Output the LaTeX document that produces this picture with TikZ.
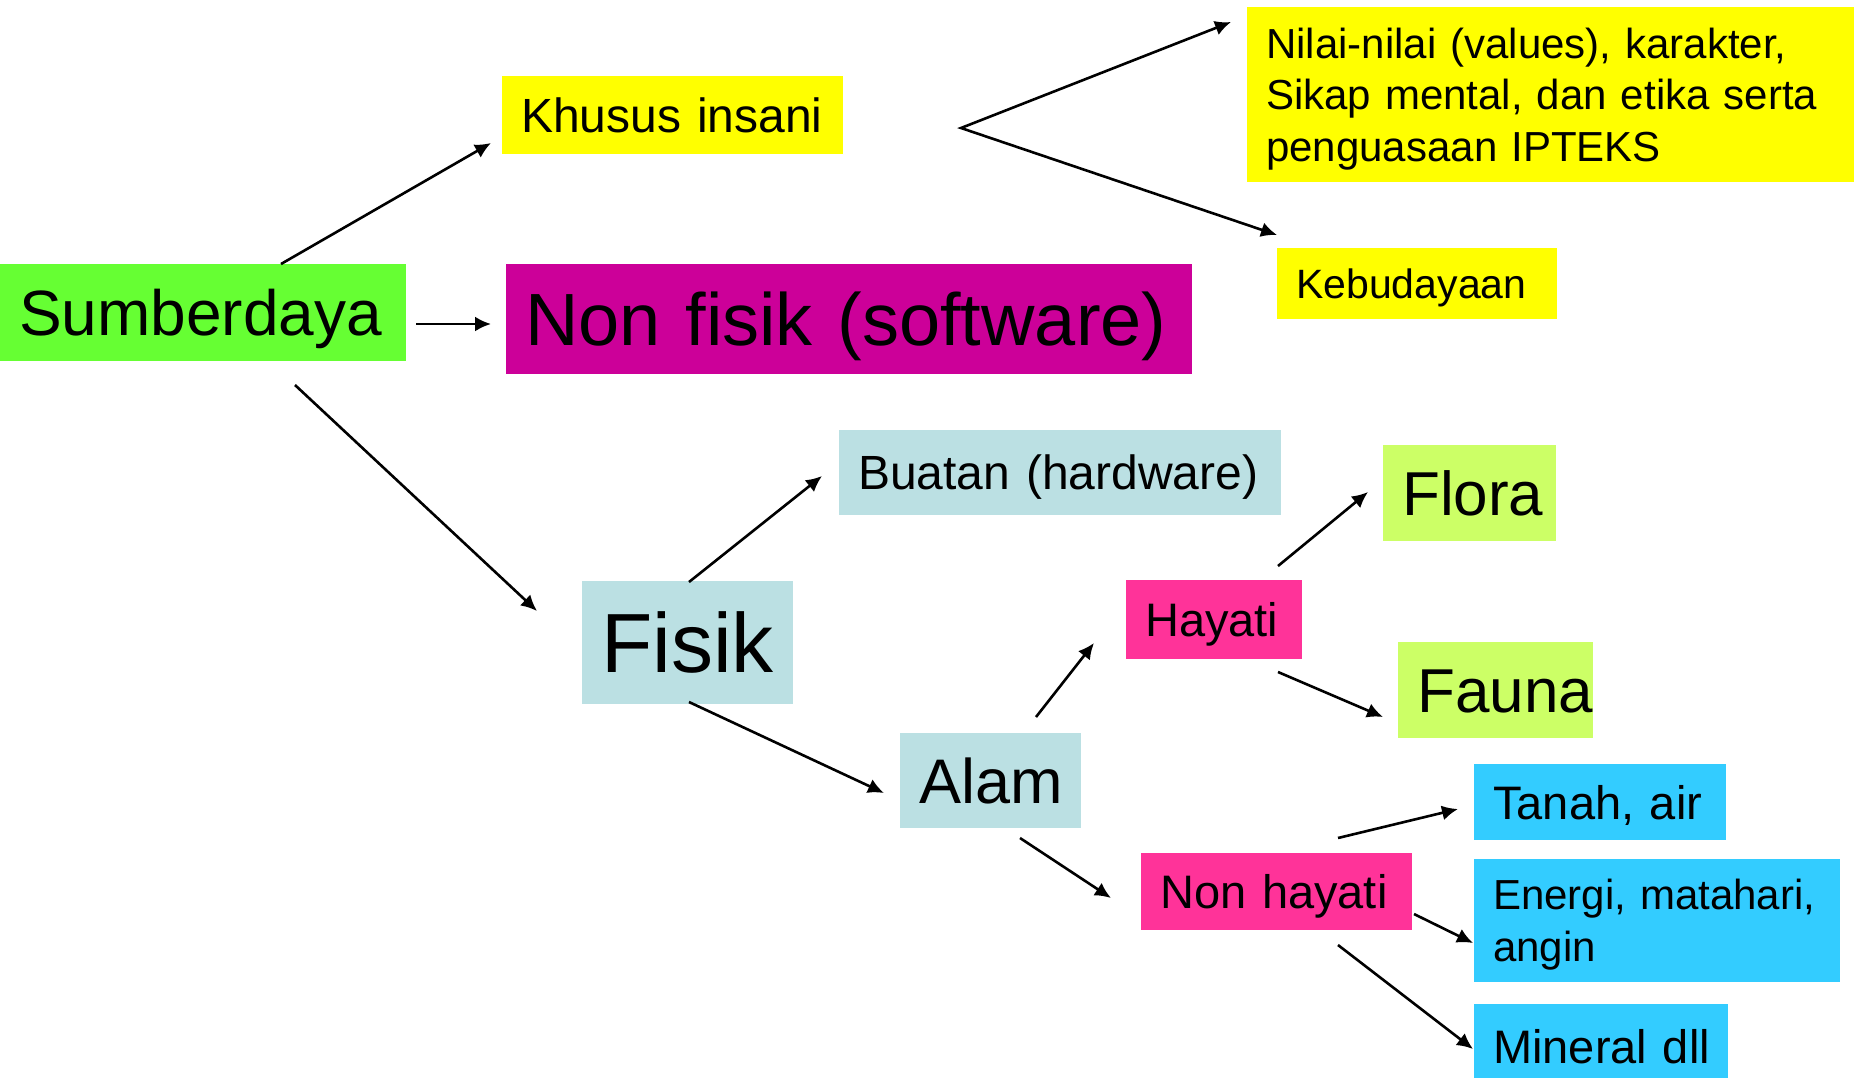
\documentclass[tikz,border=0pt]{standalone}
\usepackage{fontspec}
\setmainfont{Liberation Sans}
\usetikzlibrary{arrows.meta}
\definecolor{cgreen}{HTML}{66FF33}
\definecolor{cyellow}{HTML}{FFFF00}
\definecolor{cmagenta}{HTML}{CC0099}
\definecolor{cgreyblue}{HTML}{BBE0E3}
\definecolor{cpink}{HTML}{FF3399}
\definecolor{clime}{HTML}{CCFF66}
\definecolor{ccyan}{HTML}{33CCFF}
\begin{document}
\begin{tikzpicture}[x=1pt,y=-1pt,
  box/.style={anchor=north west, inner xsep=19pt, inner ysep=0pt, align=left, text depth=0pt},
  fz/.style={font={\fontsize{#1}{#1}\selectfont}, text height={0.716*#1pt}},
  arr/.style={line width=2.6pt, -{Latex[length=16pt,width=15pt]}},
  darr/.style={line width=2.6pt, {Latex[length=16pt,width=15pt]}-{Latex[length=16pt,width=15pt]}}]
\clip (0,0) rectangle (1861,1077);
\fill[white] (0,0) rectangle (1861,1077);

% boxes
\node[box, fz=64, fill=cgreen, minimum width=406pt, minimum height=97pt, text width=368pt] (sumber) at (0,264) {Sumberdaya};
\node[box, fz=48, fill=cyellow, minimum width=341pt, minimum height=78pt, text width=303pt] (khusus) at (502,76) {\mbox{Khusus insani}};
\node[box, fz=74, fill=cmagenta, minimum width=686pt, minimum height=110pt, text width=648pt] (nonfisik) at (506,264) {\mbox{Non fisik (software)}};
\node[box, font={\fontsize{42}{51.5}\selectfont}, text height={0.716*42pt}, text depth=103pt, fill=cyellow, minimum width=607pt, minimum height=175pt, text width=569pt] (nilai) at (1247,7) {Nilai-nilai (values), karakter,\\Sikap mental, dan etika serta\\penguasaan IPTEKS};
\node[box, fz=41, fill=cyellow, minimum width=280pt, minimum height=71pt, text width=242pt] (budaya) at (1277,248) {Kebudayaan};
\node[box, fz=48, fill=cgreyblue, minimum width=442pt, minimum height=85pt, text width=404pt] (buatan) at (839,430) {\mbox{Buatan (hardware)}};
\node[box, fz=84, fill=cgreyblue, minimum width=211pt, minimum height=123pt, text width=173pt] (fisik) at (582,581) {Fisik};
\node[box, fz=63, fill=cgreyblue, minimum width=181pt, minimum height=95pt, text width=143pt] (alam) at (900,733) {Alam};
\node[box, fz=47, fill=cpink, minimum width=176pt, minimum height=79pt, text width=138pt] (hayati) at (1126,580) {Hayati};
\node[box, fz=62, fill=clime, minimum width=173pt, minimum height=96pt, text width=135pt] (flora) at (1383,445) {Flora};
\node[box, fz=62, fill=clime, minimum width=195pt, minimum height=96pt, text width=157pt] (fauna) at (1398,642) {Fauna};
\node[box, fz=47, fill=cpink, minimum width=271pt, minimum height=77pt, text width=233pt] (nonhayati) at (1141,853) {\mbox{Non hayati}};
\node[box, fz=47, fill=ccyan, minimum width=252pt, minimum height=76pt, text width=214pt] (tanah) at (1474,764) {\mbox{Tanah, air}};
\node[box, font={\fontsize{42}{52}\selectfont}, text height={0.716*42pt}, text depth=52pt, fill=ccyan, minimum width=366pt, minimum height=123pt, text width=328pt] (energi) at (1474,859) {Energi, matahari,\\angin};
\node[box, fz=47, fill=ccyan, minimum width=254pt, minimum height=84pt, text width=216pt] (mineral) at (1474,1004) {\mbox{Mineral dll}};

% connector end points
\coordinate (sumber-k) at (281,264);   \coordinate (khusus-in) at (491,143);
\coordinate (sumber-n) at (416,324);   \coordinate (nonfisik-in) at (491,324);
\coordinate (sumber-f) at (295,385);   \coordinate (fisik-in) at (537,611);
\coordinate (khusus-v) at (961,128);
\coordinate (nilai-in) at (1231,22);   \coordinate (budaya-in) at (1277,235);
\coordinate (fisik-b) at (689,582);    \coordinate (buatan-in) at (822,476);
\coordinate (fisik-a) at (689,702);    \coordinate (alam-in) at (884,793);
\coordinate (alam-h) at (1036,717);    \coordinate (hayati-in) at (1094,643);
\coordinate (alam-n) at (1020,838);    \coordinate (nonhayati-in) at (1111,898);
\coordinate (hayati-fl) at (1278,566); \coordinate (flora-in) at (1368,492);
\coordinate (hayati-fa) at (1278,672); \coordinate (fauna-in) at (1383,717);
\coordinate (nh-t) at (1338,838);      \coordinate (tanah-in) at (1458,809);
\coordinate (nh-e) at (1414,914);      \coordinate (energi-in) at (1473,943);
\coordinate (nh-m) at (1338,945);      \coordinate (mineral-in) at (1473,1049);

% connectors
\draw[arr] (sumber-k) -- (khusus-in);
\draw[arr] (sumber-n) -- (nonfisik-in);
\draw[arr] (sumber-f) -- (fisik-in);
\draw[darr] (nilai-in) -- (khusus-v) -- (budaya-in);
\draw[arr] (fisik-b) -- (buatan-in);
\draw[arr] (fisik-a) -- (alam-in);
\draw[arr] (alam-h) -- (hayati-in);
\draw[arr] (alam-n) -- (nonhayati-in);
\draw[arr] (hayati-fl) -- (flora-in);
\draw[arr] (hayati-fa) -- (fauna-in);
\draw[arr] (nh-t) -- (tanah-in);
\draw[arr] (nh-e) -- (energi-in);
\draw[arr] (nh-m) -- (mineral-in);
\end{tikzpicture}
\end{document}
